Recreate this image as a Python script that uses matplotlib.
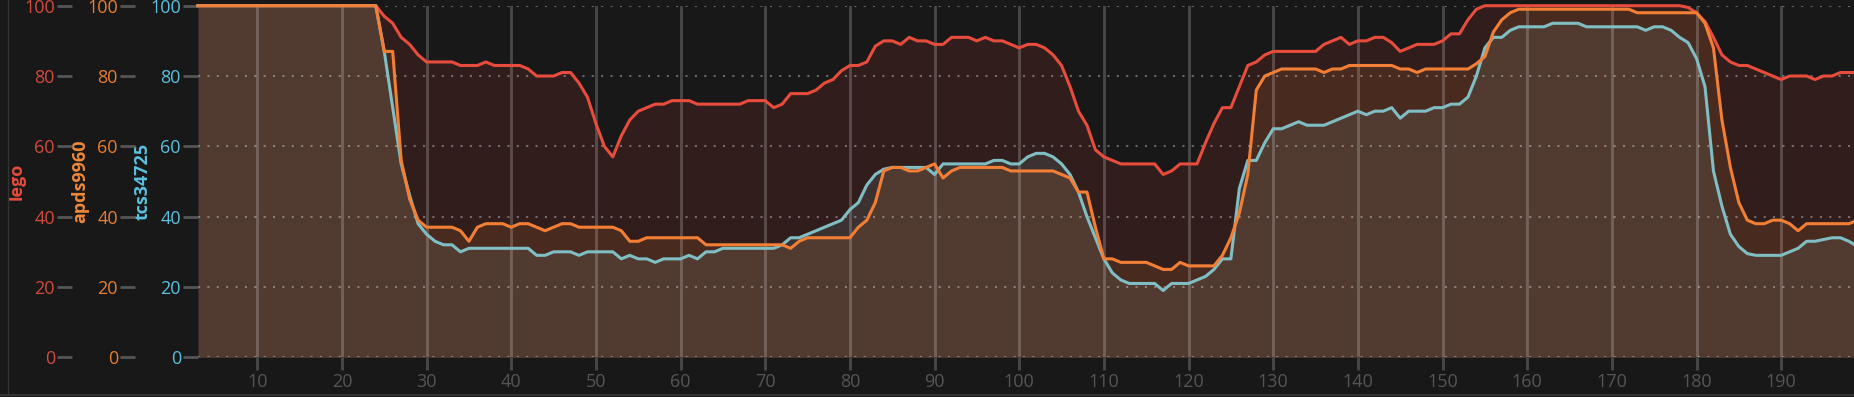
import matplotlib
matplotlib.use("Agg")
import matplotlib.pyplot as plt
from matplotlib.lines import Line2D

plt.rcParams['font.family'] = ['Open Sans', 'DejaVu Sans']

# sample index
x = list(range(3, 200))

# sensor readings (0-100), one value per sample, x = 3..199
lego = [100, 100, 100, 100, 100, 100, 100, 100, 100, 100, 100,
        100, 100, 100, 100, 100, 100, 100, 100, 100, 100, 100,
        97, 95, 91, 89, 86, 84, 84, 84, 84, 83,
        83, 83, 84, 83, 83, 83, 83, 82, 80, 80,
        80, 81, 81, 78, 74, 66.5, 60, 57, 63, 67.5,
        70, 71, 72, 72, 73, 73, 73, 72, 72, 72,
        72, 72, 72, 73, 73, 73, 71, 72, 75, 75,
        75, 76, 78, 79, 81.5, 83, 83, 84, 88.5, 90,
        90, 89, 91, 90, 90, 89, 89, 91, 91, 91,
        90, 91, 90, 90, 89, 88, 89, 89, 88, 86,
        83, 77, 70, 66, 59, 57, 56, 55, 55, 55,
        55, 55, 52, 53, 55, 55, 55, 61, 66.5, 71,
        71, 77, 83, 84, 86, 87, 87, 87, 87, 87,
        87, 89, 90, 91, 89, 90, 90, 91, 91, 89.5,
        87, 88, 89, 89, 89, 90, 92, 92, 96, 99,
        100, 100, 100, 100, 100, 100, 100, 100, 100, 100,
        100, 100, 100, 100, 100, 100, 100, 100, 100, 100,
        100, 100, 100, 100, 99.5, 98, 95.5, 91, 86, 84,
        83, 83, 82, 81, 80, 79, 80, 80, 80, 79,
        80, 80, 81, 81, 81]

apds9960 = [100, 100, 100, 100, 100, 100, 100, 100, 100, 100, 100,
            100, 100, 100, 100, 100, 100, 100, 100, 100, 100, 100,
            87, 87, 56, 45, 39, 37, 37, 37, 37, 36,
            33, 37, 38, 38, 38, 37, 38, 38, 37, 36,
            37, 38, 38, 37, 37, 37, 37, 37, 36, 33,
            33, 34, 34, 34, 34, 34, 34, 34, 32, 32,
            32, 32, 32, 32, 32, 32, 32, 32, 31, 33,
            34, 34, 34, 34, 34, 34, 37, 39, 44, 53,
            54, 54, 53, 53, 54, 55, 51, 53, 54, 54,
            54, 54, 54, 54, 53, 53, 53, 53, 53, 53,
            52, 51, 47, 47, 37, 28, 28, 27, 27, 27,
            27, 26, 25, 25, 27, 26, 26, 26, 26, 29,
            34, 41, 52, 76, 80, 81, 82, 82, 82, 82,
            82, 81, 82, 82, 83, 83, 83, 83, 83, 83,
            82, 82, 81, 82, 82, 82, 82, 82, 82, 83.5,
            85.5, 92.5, 96, 98, 99, 99, 99, 99, 99, 99,
            99, 99, 99, 99, 99, 99, 99, 99, 98, 98,
            98, 98, 98, 98, 98, 98, 95, 88, 67.5, 54,
            44, 39, 38, 38, 39, 39, 38, 36, 38, 38,
            38, 38, 38, 38, 39]

tcs34725 = [100, 100, 100, 100, 100, 100, 100, 100, 100, 100, 100,
            100, 100, 100, 100, 100, 100, 100, 100, 100, 100, 100,
            87, 71, 55, 46, 38, 35, 33, 32, 32, 30,
            31, 31, 31, 31, 31, 31, 31, 31, 29, 29,
            30, 30, 30, 29, 30, 30, 30, 30, 28, 29,
            28, 28, 27, 28, 28, 28, 29, 28, 30, 30,
            31, 31, 31, 31, 31, 31, 31, 32, 34, 34,
            35, 36, 37, 38, 39, 42, 44, 49, 52, 53.5,
            54, 54, 54, 54, 54, 52, 55, 55, 55, 55,
            55, 55, 56, 56, 55, 55, 57, 58, 58, 57,
            55, 52, 47, 40, 34, 28, 24, 22, 21, 21,
            21, 21, 19, 21, 21, 21, 22, 23, 25, 28,
            28, 48, 56, 56, 61, 65, 65, 66, 67, 66,
            66, 66, 67, 68, 69, 70, 69, 70, 70, 71,
            68, 70, 70, 70, 71, 71, 72, 72, 74, 80,
            88, 91, 91, 93, 94, 94, 94, 94, 95, 95,
            95, 95, 94, 94, 94, 94, 94, 94, 94, 93,
            94, 94, 93, 91, 89.5, 85, 77, 53, 43, 35,
            31.5, 29.5, 29, 29, 29, 29, 30, 31, 33, 33,
            33.5, 34, 34, 33, 31.5]

y_ticks = [0, 20, 40, 60, 80, 100]
x_ticks = list(range(10, 200, 10))

BG = '#181818'
RED = '#e74c3c'
ORANGE = '#f27f35'
CYAN = '#80bec4'

W, H = 1854, 397
fig = plt.figure(figsize=(W / 100, H / 100), dpi=100, facecolor=BG)
left, top, bottom = 198, 5.7, 357.3
ax = fig.add_axes([left / W, 1 - bottom / H, (W - left) / W, (bottom - top) / H])
ax.set_facecolor(BG)

# fills (same hue as the lines, very transparent) then lines on top
ax.fill_between(x, 0, lego, color=RED, alpha=0.125, lw=0, zorder=1)
ax.fill_between(x, 0, tcs34725, color=CYAN, alpha=0.13, lw=0, zorder=1)
ax.fill_between(x, 0, apds9960, color=ORANGE, alpha=0.125, lw=0, zorder=1)
ax.plot(x, lego, color=RED, lw=2.2, zorder=3, clip_on=False)
ax.plot(x, tcs34725, color=CYAN, lw=2.2, zorder=3, clip_on=False)
ax.plot(x, apds9960, color=ORANGE, lw=2.2, zorder=3, clip_on=False)

ax.set_xlim(3, 198.6)
ax.set_ylim(0, 100)
ax.set_xticks(x_ticks)
ax.set_yticks(y_ticks)
ax.set_axisbelow(False)
ax.grid(axis='x', color='white', alpha=0.2, lw=2.1, ls='-')
ax.grid(axis='y', color='white', alpha=0.35, lw=1.5, ls=(0, (1, 3.5)))
ax.tick_params(axis='x', length=9.5, width=2.1, color='#464646', pad=2,
               labelsize=13, labelcolor='#555555')

ax_apds = ax.twinx()
ax_lego = ax.twinx()
axes_info = [
    (ax, 'tcs34725', '#5bc0de', '#5bc0de', 0),
    (ax_apds, 'apds9960', '#e67e33', '#f0883a', -63),
    (ax_lego, 'lego', '#d24a3c', '#e74c3c', -126),
]
plot_w = W - left
for a, name, tick_col, lab_col, off in axes_info:
    for s in a.spines.values():
        s.set_visible(False)
    a.set_ylim(0, 100)
    a.set_yticks(y_ticks)
    a.yaxis.set_ticks_position('left')
    a.yaxis.set_label_position('left')
    a.spines['left'].set_position(('axes', off / plot_w))
    a.tick_params(axis='y', length=10.8, width=2, color='#555555', pad=1.5,
                  labelsize=13, labelcolor=tick_col)
    a.set_ylabel(name, color=lab_col, fontsize=13, fontweight='bold')
    a.yaxis.set_label_coords((off - 55) / plot_w, 0.5)
    a.yaxis.label.set_va('center')

# panel border lines
fig.add_artist(Line2D([8 / W, 8 / W], [2 / H, 1], color='#333333', lw=1))
fig.add_artist(Line2D([0, 1], [2 / H, 2 / H], color='#333333', lw=1.5))

fig.savefig('out.png', dpi=100, facecolor=BG)
